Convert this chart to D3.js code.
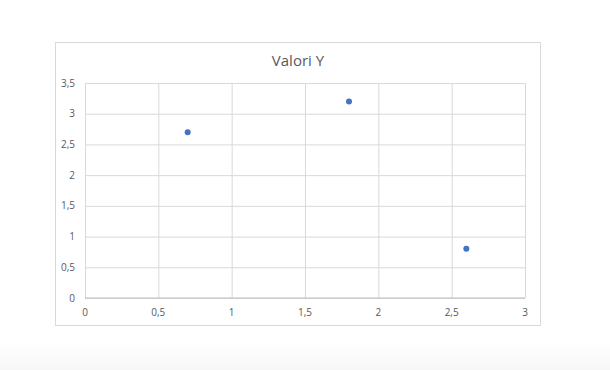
<!DOCTYPE html>
<html>
<head>
<meta charset="utf-8">
<script src="https://cdn.jsdelivr.net/npm/d3@7"></script>
<style>
  body { margin: 0; background: #ffffff; }
  svg { display: block; }
</style>
</head>
<body>
<div id="chart"></div>
<script>
// data
var xValues = [0.7, 1.8, 2.6];
var yValues = [2.7, 3.2, 0.8];
var xTicks = [0, 0.5, 1, 1.5, 2, 2.5, 3];
var yTicks = [0, 0.5, 1, 1.5, 2, 2.5, 3, 3.5];
var chartTitle = "Valori Y";

var width = 610, height = 370;
var box = { x: 55.5, y: 42.5, w: 485, h: 283 };
var plot = { left: 85, right: 525, top: 83, bottom: 298 };

var fmt = function(d) { return String(d).replace(".", ","); };

var svg = d3.select("#chart")
  .append("svg")
  .attr("width", width)
  .attr("height", height)
  .style("font-family", "'Open Sans', 'Liberation Sans', sans-serif");

// faint grey band at the bottom of the screenshot
var grad = svg.append("defs").append("linearGradient")
  .attr("id", "band")
  .attr("x1", 0).attr("y1", 0).attr("x2", 0).attr("y2", 1);
grad.append("stop").attr("offset", "0%").attr("stop-color", "#ffffff");
grad.append("stop").attr("offset", "100%").attr("stop-color", "#f7f7f7");
svg.append("rect")
  .attr("x", 0).attr("y", 340)
  .attr("width", width).attr("height", 30)
  .style("fill", "url(#band)");

// chart frame
svg.append("rect")
  .attr("x", box.x).attr("y", box.y)
  .attr("width", box.w).attr("height", box.h)
  .style("fill", "white")
  .style("stroke", "#d9d9d9")
  .style("stroke-width", "1px");

var x = d3.scaleLinear().domain([0, 3]).range([plot.left, plot.right]);
var y = d3.scaleLinear().domain([0, 3.5]).range([plot.bottom, plot.top]);

// vertical gridlines
svg.append("g")
  .attr("transform", "translate(0," + plot.bottom + ")")
  .call(d3.axisBottom(x).tickValues(xTicks).tickSize(-(plot.bottom - plot.top)).tickFormat(""))
  .call(function(g) { g.select(".domain").remove(); })
  .selectAll("line")
  .attr("stroke", "#d9d9d9");

// horizontal gridlines
svg.append("g")
  .attr("transform", "translate(" + plot.left + ",0)")
  .call(d3.axisLeft(y).tickValues(yTicks).tickSize(-(plot.right - plot.left)).tickFormat(""))
  .call(function(g) { g.select(".domain").remove(); })
  .selectAll("line")
  .attr("stroke", "#d9d9d9");

// x axis line
svg.append("line")
  .attr("x1", plot.left).attr("x2", plot.right)
  .attr("y1", y(0)).attr("y2", y(0))
  .style("stroke", "#bfbfbf")
  .style("stroke-width", "1px");

// tick labels
svg.selectAll("text.xtick")
  .data(xTicks)
  .enter()
  .append("text")
  .attr("class", "xtick")
  .attr("x", function(d) { return x(d); })
  .attr("y", 316)
  .attr("font-size", 10)
  .attr("text-anchor", "middle")
  .attr("fill", "#595959")
  .text(fmt);

svg.selectAll("text.ytick")
  .data(yTicks)
  .enter()
  .append("text")
  .attr("class", "ytick")
  .attr("x", 75)
  .attr("y", function(d) { return y(d) + 3.5; })
  .attr("font-size", 10)
  .attr("text-anchor", "end")
  .attr("fill", "#595959")
  .text(fmt);

// title
svg.append("text")
  .attr("x", 298)
  .attr("y", 66)
  .attr("font-size", 15)
  .attr("text-anchor", "middle")
  .attr("fill", "#595959")
  .text(chartTitle);

// points
svg.selectAll("circle.pt")
  .data(xValues)
  .enter()
  .append("circle")
  .attr("class", "pt")
  .attr("cx", function(d) { return x(d); })
  .attr("cy", function(d, i) { return y(yValues[i]); })
  .attr("r", 3)
  .style("fill", "#4472c4");
</script>
</body>
</html>
